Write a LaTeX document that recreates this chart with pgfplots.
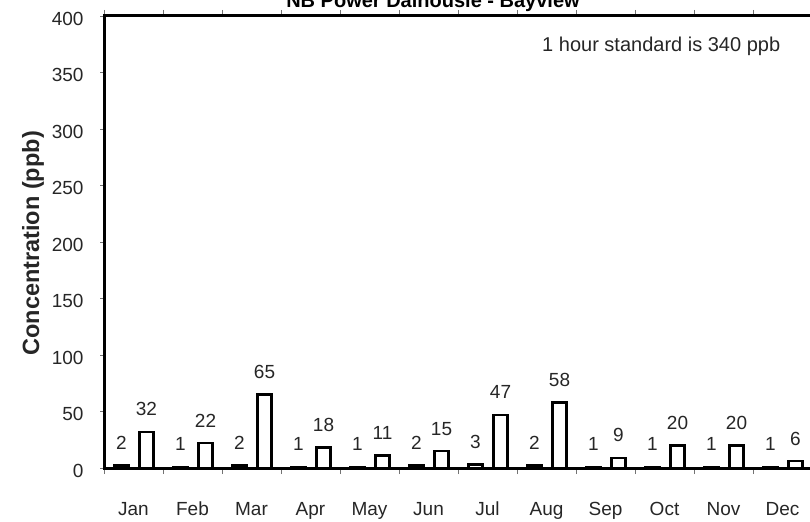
\documentclass[border=0pt]{standalone}
\usepackage{pgfplots}
\pgfplotsset{compat=1.18}
\usepackage{fontspec}
\setmainfont{Liberation Sans}
\begin{document}
\begin{tikzpicture}[x=1bp,y=1bp]
\useasboundingbox (0,0) rectangle (810,-522);
\clip (0,0) rectangle (810,-522);
\begin{axis}[
    at={(104bp,-468bp)}, anchor=south west,
    scale only axis,
    width=708bp, height=452bp,
    ybar, bar width=14bp,
    xmin=-0.5, xmax=11.5,
    ymin=0, ymax=400,
    ytick distance=50,
    xtick={0,...,11},
    xticklabels={Jan,Feb,Mar,Apr,May,Jun,Jul,Aug,Sep,Oct,Nov,Dec},
    minor xtick={-0.5,0.5,...,11.5},
    major x tick style={draw=none},
    minor x tick style={black!55, line width=0.7bp},
    y tick style={black!55, line width=0.7bp},
    tick align=outside,
    major tick length=4bp, minor tick length=6bp,
    axis line style={line width=3bp, black},
    /pgf/number format/assume math mode=true,
    ticklabel style={font=\fontsize{19bp}{22bp}\selectfont, text=black!85},
    yticklabel style={anchor=base east, xshift=-13bp, yshift=-9bp},
    xticklabel style={anchor=base, yshift=-43bp},
    ylabel={\bfseries Concentration (ppb)},
    ylabel style={at={(axis description cs:-0.1003,0.497)}, anchor=center,
        font=\fontsize{23.5bp}{27bp}\selectfont, text=black!85},
    nodes near coords,
    every node near coord/.append style={font=\fontsize{19bp}{22bp}\selectfont,
        text=black!85, anchor=base, yshift=16bp, /pgf/number format/assume math mode=true},
    clip=false,
]
\addplot[draw=black, fill=white, line width=2.5bp, bar shift=-12bp] coordinates {
    (0,2) (1,1) (2,2) (3,1) (4,1) (5,2) (6,3) (7,2) (8,1) (9,1) (10,1) (11,1)};
\addplot[draw=black, fill=white, line width=2.5bp, bar shift=13bp] coordinates {
    (0,32) (1,22) (2,65) (3,18) (4,11) (5,15) (6,47) (7,58) (8,9) (9,20) (10,20) (11,6)};
\node[font=\fontsize{20bp}{24bp}\selectfont, text=black!85]
    at (axis description cs:0.787,0.934) {1 hour standard is 340 ppb};
\end{axis}
\node[font=\fontsize{20bp}{24bp}\selectfont\bfseries, anchor=base] at (433,-7.5) {NB Power Dalhousie - Bayview};
\end{tikzpicture}
\end{document}
